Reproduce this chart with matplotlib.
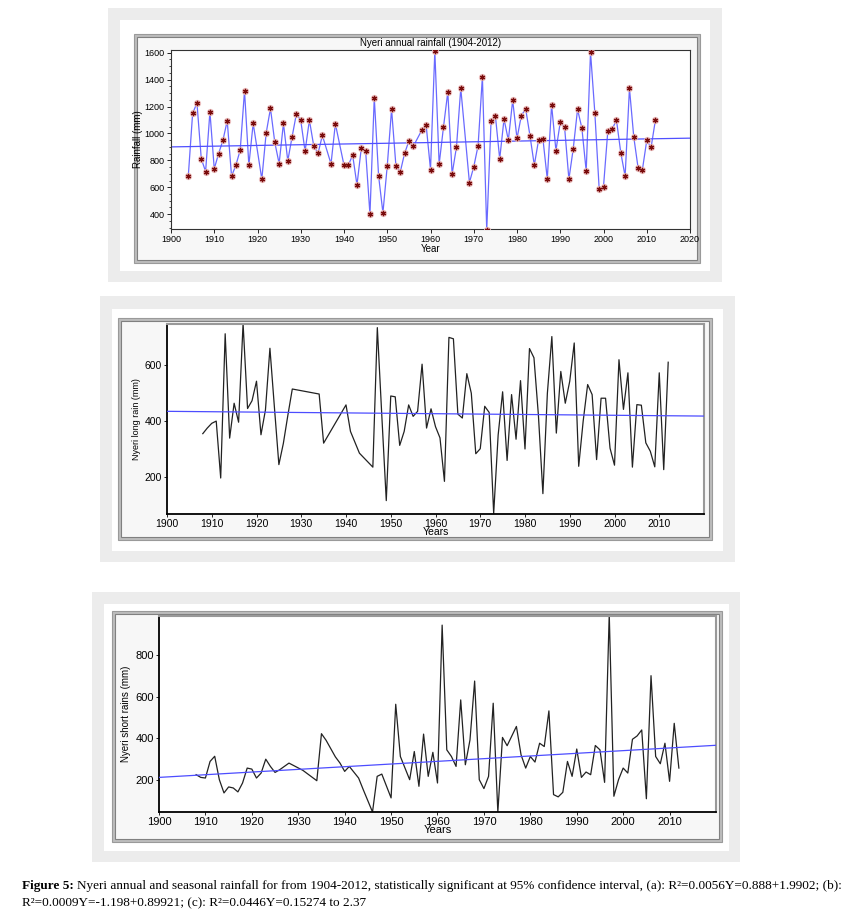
import matplotlib
matplotlib.use("Agg")
import matplotlib.pyplot as plt
from matplotlib.patches import Rectangle
from matplotlib.ticker import MultipleLocator

# ---------------- data ----------------
years_a = [1904, 1905, 1906, 1907, 1908, 1909, 1910, 1911, 1912, 1913, 1914, 1915, 1916, 1917,
           1918, 1919, 1921, 1922, 1923, 1924, 1925, 1926, 1927, 1928, 1929, 1930, 1931, 1932,
           1933, 1934, 1935, 1937, 1938, 1940, 1941, 1942, 1943, 1944, 1945, 1946, 1947, 1948,
           1949, 1950, 1951, 1952, 1953, 1954, 1955, 1956, 1958, 1959, 1960, 1961, 1962, 1963,
           1964, 1965, 1966, 1967, 1969, 1970, 1971, 1972, 1973, 1974, 1975, 1976, 1977, 1978,
           1979, 1980, 1981, 1982, 1983, 1984, 1985, 1986, 1987, 1988, 1989, 1990, 1991, 1992,
           1993, 1994, 1995, 1996, 1997, 1998, 1999, 2000, 2001, 2002, 2003, 2004, 2005, 2006,
           2007, 2008, 2009, 2010, 2011, 2012]
rain_a = [684, 1149, 1226, 812, 717, 1161, 737, 850, 948, 1094, 682, 764, 876, 1316,
          764, 1075, 660, 1002, 1186, 933, 776, 1075, 796, 975, 1147, 1097, 868, 1099,
          908, 853, 985, 774, 1072, 764, 764, 839, 617, 891, 871, 398, 1266, 684,
          410, 759, 1179, 761, 712, 851, 943, 903, 1025, 1060, 732, 1611, 771, 1047,
          1308, 699, 898, 1335, 635, 752, 908, 1422, 282, 1089, 1132, 811, 1107, 950,
          1246, 963, 1132, 1184, 983, 764, 953, 958, 662, 1211, 873, 1082, 1047, 660,
          886, 1179, 1040, 720, 1604, 1152, 588, 605, 1020, 1032, 1099, 856, 682, 1335,
          973, 744, 732, 948, 896, 1099]
trend_a_years = [1900, 2020]
trend_a_vals = [900, 965]

years_b = [1908, 1909, 1910, 1911, 1912, 1913, 1914, 1915, 1916, 1917, 1918, 1919, 1920, 1921,
           1922, 1923, 1924, 1925, 1926, 1927, 1928, 1934, 1935, 1940, 1941, 1943, 1946, 1947,
           1948, 1949, 1950, 1951, 1952, 1953, 1954, 1955, 1956, 1957, 1958, 1959, 1960, 1961,
           1962, 1963, 1964, 1965, 1966, 1967, 1968, 1969, 1970, 1971, 1972, 1973, 1974, 1975,
           1976, 1977, 1978, 1979, 1980, 1981, 1982, 1983, 1984, 1985, 1986, 1987, 1988, 1989,
           1990, 1991, 1992, 1993, 1994, 1995, 1996, 1997, 1998, 1999, 2000, 2001, 2002, 2003,
           2004, 2005, 2006, 2007, 2008, 2009, 2010, 2011, 2012]
rain_b = [355, 375, 392, 400, 196, 713, 339, 464, 396, 750, 445, 473, 543, 351,
          440, 661, 450, 244, 320, 420, 515, 497, 321, 458, 363, 285, 235, 735,
          420, 115, 490, 487, 313, 363, 458, 417, 435, 604, 375, 444, 380, 340,
          184, 700, 695, 425, 411, 570, 500, 283, 301, 453, 431, 69, 350, 505,
          259, 495, 335, 545, 300, 660, 627, 420, 140, 500, 703, 357, 578, 464,
          543, 680, 238, 400, 531, 495, 262, 482, 482, 303, 242, 620, 442, 573,
          235, 459, 457, 322, 292, 236, 573, 226, 611]
trend_b_years = [1900, 2020]
trend_b_vals = [435, 418]

years_c = [1908, 1909, 1910, 1911, 1912, 1913, 1914, 1915, 1916, 1917, 1918, 1919, 1920, 1921,
           1922, 1923, 1924, 1925, 1926, 1927, 1928, 1931, 1934, 1935, 1936, 1937, 1938, 1939,
           1940, 1941, 1943, 1944, 1946, 1947, 1948, 1950, 1951, 1952, 1954, 1955, 1956, 1957,
           1958, 1959, 1960, 1961, 1962, 1963, 1964, 1965, 1966, 1967, 1968, 1969, 1970, 1971,
           1972, 1973, 1974, 1975, 1977, 1978, 1979, 1980, 1981, 1982, 1983, 1984, 1985, 1986,
           1987, 1988, 1989, 1990, 1991, 1992, 1993, 1994, 1995, 1996, 1997, 1998, 1999, 2000,
           2001, 2002, 2003, 2004, 2005, 2006, 2007, 2008, 2009, 2010, 2011, 2012]
rain_c = [224, 211, 208, 288, 313, 200, 136, 165, 160, 141, 184, 256, 251, 208,
          232, 299, 264, 235, 248, 264, 280, 245, 195, 422, 390, 350, 310, 280,
          240, 264, 208, 152, 44, 216, 227, 112, 564, 312, 200, 336, 168, 420,
          216, 332, 184, 946, 344, 312, 264, 585, 272, 392, 676, 200, 157, 216,
          569, 43, 404, 364, 457, 320, 256, 312, 285, 376, 360, 532, 128, 117,
          139, 288, 216, 348, 211, 237, 224, 365, 344, 187, 1000, 120, 200, 256,
          232, 395, 411, 440, 108, 702, 312, 277, 376, 192, 472, 256]
trend_c_years = [1900, 2020]
trend_c_vals = [211, 366]

xticks = list(range(1900, 2030, 10))

# ---------------- layout helpers ----------------
W, H = 860, 916
fig = plt.figure(figsize=(W / 100, H / 100), dpi=100)
fig.patch.set_facecolor("white")
plt.rcParams["font.family"] = ["Liberation Sans", "DejaVu Sans"]


def frect(x0, y0, x1, y1):
    return [x0 / W, 1 - y1 / H, (x1 - x0) / W, (y1 - y0) / H]


def box(x0, y0, x1, y1, fc, ec="none", lw=0.0, z=0):
    r = Rectangle((x0 / W, 1 - y1 / H), (x1 - x0) / W, (y1 - y0) / H,
                  transform=fig.transFigure, facecolor=fc, edgecolor=ec, lw=lw, zorder=z)
    fig.add_artist(r)


def panel(outer, inner, frame):
    box(*outer, fc="#ececec", z=-10)
    box(*inner, fc="white", z=-9)
    x0, y0, x1, y1 = frame
    box(x0, y0, x1, y1, fc="#bdbdbd", ec="#9a9a9a", lw=0.8, z=-8)
    box(x0 + 3, y0 + 3, x1 - 3, y1 - 3, fc="#f7f7f7", ec="#808080", lw=0.8, z=-7)


# ---------------- panel (a) ----------------
panel((108, 8, 722, 282), (120, 20, 710, 271), (134, 34, 700, 263))
axa = fig.add_axes(frect(171, 50, 690, 229))
axa.plot(years_a, rain_a, color="#6a6aff", lw=0.9, zorder=2)
axa.plot(trend_a_years, trend_a_vals, color="#5050ff", lw=0.9, zorder=2)
axa.plot(years_a, rain_a, linestyle="none", marker="o", ms=4.2, color="#ebbcbc",
         alpha=0.9, zorder=3)
axa.plot(years_a, rain_a, linestyle="none", marker=(6, 2, 0), ms=3.8, mew=0.9,
         color="#7a0c0c", zorder=4)
axa.set_xlim(1900, 2020)
axa.set_ylim(290, 1620)
axa.set_xticks(xticks)
axa.set_yticks(range(400, 1601, 200))
axa.yaxis.set_minor_locator(MultipleLocator(50))
axa.tick_params(labelsize=6.5, length=3, width=0.6, pad=1.5)
axa.tick_params(which="minor", length=1.5, width=0.5)
axa.set_xlabel("Year", fontsize=7, labelpad=0)
axa.set_ylabel("Rainfall (mm)", fontsize=7, labelpad=1)
axa.set_title("Nyeri annual rainfall (1904-2012)", fontsize=7, pad=3)
for s in axa.spines.values():
    s.set_linewidth(0.8)
    s.set_color("#333333")

# ---------------- panel (b) ----------------
panel((100, 296, 735, 562), (112, 309, 723, 551), (118, 318, 712, 540))
axb = fig.add_axes(frect(167, 324, 704, 514))
axb.plot(years_b, rain_b, color="#222222", lw=0.9, zorder=2)
axb.plot(trend_b_years, trend_b_vals, color="#4d4dff", lw=0.9, zorder=3)
axb.set_xlim(1900, 2020)
axb.set_ylim(67, 748)
axb.set_xticks(xticks[:-1])
axb.set_yticks([200, 400, 600])
axb.tick_params(labelsize=7.5, length=2, width=0.6, pad=1.5)
axb.set_xlabel("Years", fontsize=7.5, labelpad=-1)
axb.set_ylabel("Nyeri long rain (mm)", fontsize=6.5, labelpad=3)
axb.spines["left"].set_linewidth(1.3)
axb.spines["bottom"].set_linewidth(1.3)
axb.spines["top"].set_color("#999999")
axb.spines["right"].set_color("#999999")
axb.spines["top"].set_linewidth(1.5)
axb.spines["right"].set_linewidth(1.5)

# ---------------- panel (c) ----------------
panel((92, 592, 740, 862), (104, 604, 729, 851), (112, 611, 722, 842))
axc = fig.add_axes(frect(159, 616, 716, 812))
axc.plot(years_c, rain_c, color="#222222", lw=0.9, zorder=2)
axc.plot(trend_c_years, trend_c_vals, color="#4d4dff", lw=0.9, zorder=3)
axc.set_xlim(1900, 2020)
axc.set_ylim(44, 990)
axc.set_xticks(xticks[:-1])
axc.set_yticks([200, 400, 600, 800])
axc.tick_params(labelsize=8, length=2, width=0.6, pad=1.5)
axc.set_xlabel("Years", fontsize=8, labelpad=-1)
axc.set_ylabel("Nyeri short rains (mm)", fontsize=7, labelpad=3)
axc.spines["left"].set_linewidth(1.3)
axc.spines["bottom"].set_linewidth(1.3)
axc.spines["top"].set_color("#999999")
axc.spines["right"].set_color("#999999")
axc.spines["top"].set_linewidth(1.5)
axc.spines["right"].set_linewidth(1.5)

# ---------------- caption ----------------
cap_font = ["Liberation Serif", "DejaVu Serif"]
cap_size = 9.55
renderer = fig.canvas.get_renderer()
t1 = fig.text(22 / W, 1 - 886 / H, "Figure 5:", fontsize=cap_size, fontweight="bold",
              family=cap_font, va="center", ha="left")
bb = t1.get_window_extent(renderer=renderer)
fig.text((bb.x1 + 3) / W, 1 - 886 / H,
         "Nyeri annual and seasonal rainfall for from 1904-2012, statistically significant at 95% "
         "confidence interval, (a): R\u00b2=0.0056Y=0.888+1.9902; (b):",
         fontsize=cap_size, family=cap_font, va="center", ha="left")
fig.text(22 / W, 1 - 903 / H,
         "R\u00b2=0.0009Y=-1.198+0.89921; (c): R\u00b2=0.0446Y=0.15274 to 2.37",
         fontsize=cap_size, family=cap_font, va="center", ha="left")

fig.savefig("out.png", dpi=100)
